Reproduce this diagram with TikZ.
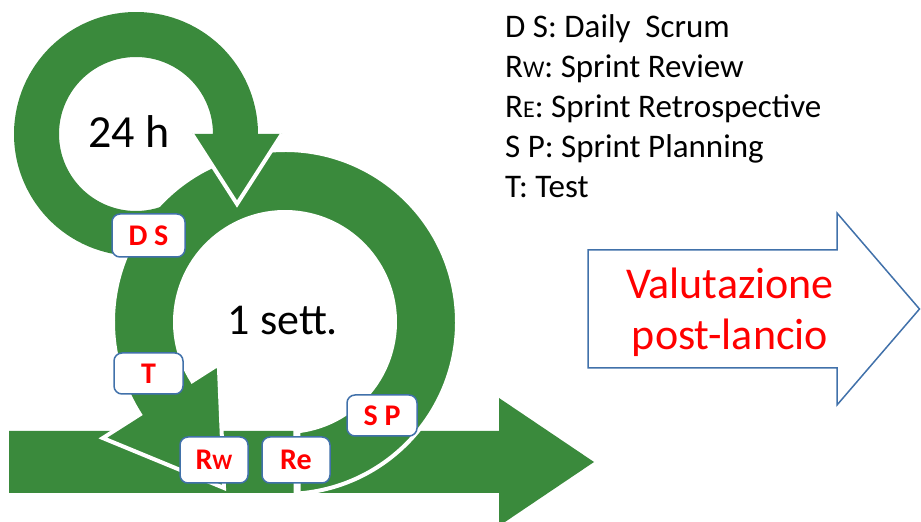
\documentclass[tikz,border=0pt]{standalone}
\usepackage{fontspec}
\setmainfont{Carlito}
\usetikzlibrary{calc}
\definecolor{ringgreen}{RGB}{58,138,60}
\definecolor{boxblue}{RGB}{65,113,170}
\begin{document}
\begin{tikzpicture}[x=1pt,y=1pt,
  lbl/.style={draw=boxblue, line width=1.5, fill=white, rounded corners=8,
    text=red, font=\fontsize{30}{30}\selectfont\bfseries, inner sep=0},
  legend/.style={anchor=base west, inner sep=0, font=\fontsize{33}{33}\selectfont},
  ringfill/.style={fill=ringgreen},
  whiteedge/.style={draw=white, line width=4, line join=miter},
  bigtext/.style={inner sep=0, anchor=base}
  ]
\useasboundingbox (0,0) rectangle (921,522);

% horizontal arrow
\fill[ringfill] (9,91) -- (499,91) -- (499,124) -- (594,60) -- (499,-4) -- (499,29) -- (9,29) -- cycle;

% big ring
\coordinate (BC) at (285,200);
\filldraw[ringfill, whiteedge] ($(BC)+(274:172)$) arc[start angle=274, end angle=572.5, radius=172]
  -- ($(BC)+(212.5:216)$) -- (224,34) -- ($(BC)+(212.5:78.5)$) -- ($(BC)+(212.5:110)$)
  arc[start angle=212.5, end angle=-83.7, radius=110] -- cycle;
\draw[white, line width=7] ($(BC)+(276.3:108)$) -- ($(BC)+(274:174)$);

% small ring
\coordinate (SC) at (136,388);
\fill[ringfill] ($(SC)+(300:122)$) arc[start angle=300, end angle=0, radius=122]
  -- (282,388) -- (237,318) -- (192,388) -- ($(SC)+(0:77)$)
  arc[start angle=0, end angle=300, radius=77] -- cycle;
\draw[whiteedge] (282,388) -- (237,318) -- (192,388);

% hollow arrow
\draw[boxblue, line width=1.5, fill=white] (588,272) -- (837,272) -- (837,309) -- (919.5,213) -- (837,117) -- (837,154) -- (588,154) -- cycle;
\node[inner sep=0, align=center, text=red, font=\fontsize{44}{51}\selectfont] (post) at (730,210) {Valutazione\\post-lancio};

% labels
\node[lbl, minimum width=73, minimum height=43] (ds) at (148.5,286.5) {D S};
\node[lbl, minimum width=69, minimum height=41] (t) at (148.5,148.5) {T};
\node[lbl, minimum width=70, minimum height=41] (sp) at (382,106.5) {S P};
\node[lbl, minimum width=68, minimum height=46] (rw) at (214,62) {R{\fontsize{22}{22}\selectfont W}};
\node[lbl, minimum width=68, minimum height=46] (re) at (296,62) {Re};

% cycle texts
\node[bigtext, font=\fontsize{46}{46}\selectfont] (h24) at (129,374) {24 h};
\node[bigtext, font=\fontsize{44}{44}\selectfont] (sett) at (283,187) {1 sett.};

% legend
\node[legend] (leg1) at (505,484) {D S: Daily\ \ Scrum};
\node[legend] (leg2) at (505,444) {R{\fontsize{24}{24}\selectfont W}: Sprint Review};
\node[legend] (leg3) at (505,404) {R{\fontsize{24}{24}\selectfont E}: Sprint Retrospective};
\node[legend] (leg4) at (505,364) {S P: Sprint Planning};
\node[legend] (leg5) at (505,324) {T: Test};
\end{tikzpicture}
\end{document}
